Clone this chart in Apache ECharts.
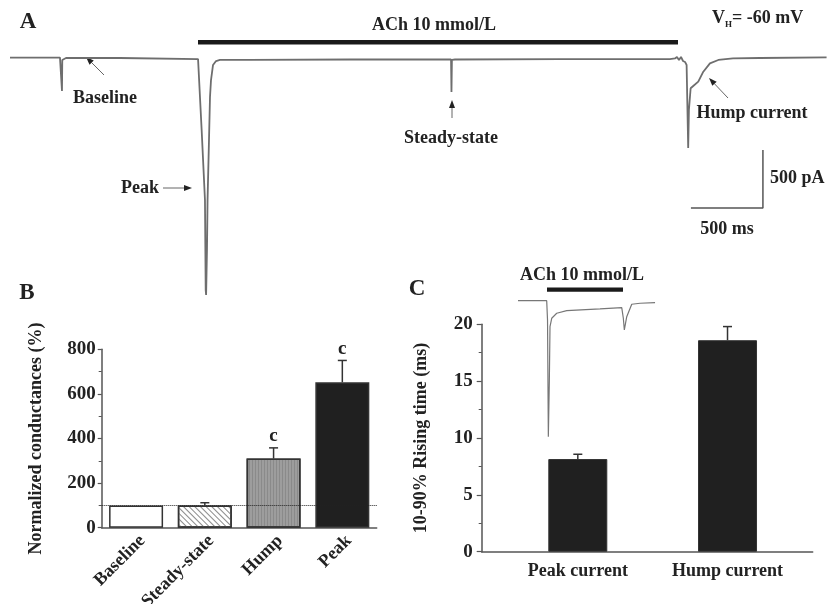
<!DOCTYPE html>
<html>
<head>
<meta charset="utf-8">
<script src="https://cdn.jsdelivr.net/npm/echarts@6/dist/echarts.min.js"></script>
<style>
  html, body { margin: 0; padding: 0; background: #fff; }
  #main { width: 827px; height: 604px; }
</style>
</head>
<body>
<div id="main"></div>
<script>
// panel A: whole-cell current trace (ms, pA)
const traceTime = [0, 347, 358, 361, 363, 365, 389, 764, 1306, 1312, 1331, 1354, 1359, 1362, 1368, 1372, 1382, 1389, 1396, 1410, 1431, 1458, 1667, 2361, 3063, 3066, 3069, 3090, 3819, 4583, 4618, 4632, 4646, 4660, 4674, 4688, 4699, 4710, 4715, 4727, 4745, 4780, 4815, 4861, 4919, 5021, 5208, 5671];
const traceCurrent = [4, 4, 0, -284, -17, 0, 0, 0, -9, -11, -621, -1224, -2000, -2043, -1655, -1224, -707, -336, -190, -60, -26, -17, -17, -13, -13, -293, -17, -13, -9, -9, -4, 9, -17, 9, -26, -34, -60, -776, -448, -261, -241, -204, -118, -46, -17, -3, 0, 6];
// scale bar 500 ms x 500 pA
const scaleTime = [4729, 5229, 5229];
const scaleCurrent = [-1293, -1293, -793];

// panel C inset trace
const insetTime = [0, 1260, 1296, 1332, 1376, 1405, 1480, 1700, 2139, 3601, 4554, 4624, 4668, 4773, 4993, 5358, 6016];
const insetCurrent = [0, 0, -290, -2040, -1190, -390, -264, -189, -150, -124, -105, -264, -440, -240, -54, -39, -30];

// panel B
const bCats = ['Baseline', 'Steady-state', 'Hump', 'Peak'];
const bMeans = [100, 100, 310, 652];
const bErrs = [0, 12, 48, 98];
const bMarks = ['', '', 'c', 'c'];

// panel C
const cCats = ['Peak current', 'Hump current'];
const cPos = [1, 2];
const cMeans = [8.15, 18.6];
const cErrs = [0.42, 1.2];

const serif = '"Liberation Serif", "DejaVu Serif", serif';
const ink = '#222';
const axisGray = '#555';

function pairs(a, b) { return a.map((v, i) => [v, b[i]]); }

function makeErrRender(marks) {
  return function (params, api) {
    const x = api.value(0), m = api.value(1), e = api.value(2);
    const p0 = api.coord([x, m]);
    const p1 = api.coord([x, m + e]);
    const kids = [];
    if (e > 0) {
      kids.push({ type: 'line', shape: { x1: p0[0], y1: p0[1], x2: p1[0], y2: p1[1] }, style: { stroke: '#333', lineWidth: 1.5 } });
      kids.push({ type: 'line', shape: { x1: p1[0] - 4.5, y1: p1[1], x2: p1[0] + 4.5, y2: p1[1] }, style: { stroke: '#333', lineWidth: 1.5 } });
    }
    const mk = marks && marks[params.dataIndex];
    if (mk) {
      kids.push({ type: 'text', x: p1[0], y: p1[1] - 2, style: { text: mk, align: 'center', verticalAlign: 'bottom', font: 'bold 19px ' + serif, fill: ink } });
    }
    return { type: 'group', children: kids };
  };
}

function arrow(x1, y1, x2, y2) {
  const ang = Math.atan2(y2 - y1, x2 - x1);
  const L = 8, W = 3;
  const bx = x2 - L * Math.cos(ang), by = y2 - L * Math.sin(ang);
  const nx = -Math.sin(ang) * W, ny = Math.cos(ang) * W;
  return [
    { type: 'line', shape: { x1: x1, y1: y1, x2: bx, y2: by }, style: { stroke: '#666', lineWidth: 1 } },
    { type: 'polygon', shape: { points: [[x2, y2], [bx + nx, by + ny], [bx - nx, by - ny]] }, style: { fill: ink } }
  ];
}

function txt(x, y, s, size, align) {
  return { type: 'text', x: x, y: y, style: { text: s, font: 'bold ' + size + 'px ' + serif, fill: ink, align: align || 'center', verticalAlign: 'middle' } };
}

const chart = echarts.init(document.getElementById('main'), null, { renderer: 'canvas' });

const hiddenAxis = { show: false };

const option = {
  animation: false,
  backgroundColor: '#fff',
  grid: [
    { left: 10, top: 46.4, width: 817, height: 255.2, outerBoundsMode: 'none' },
    { left: 101.7, top: 349.3, width: 275, height: 178.4, outerBoundsMode: 'none' },
    { left: 481.7, top: 324.3, width: 331, height: 227.4, outerBoundsMode: 'none' },
    { left: 518, top: 294, width: 137, height: 146.7, outerBoundsMode: 'none' }
  ],
  xAxis: [
    Object.assign({ type: 'value', gridIndex: 0, min: 0, max: 5674 }, hiddenAxis),
    {
      type: 'category', gridIndex: 1, data: bCats,
      axisLine: { lineStyle: { color: axisGray, width: 1.5 } },
      axisTick: { show: false },
      axisLabel: { rotate: 45, margin: 4, verticalAlign: 'top', color: ink, fontFamily: serif, fontWeight: 'bold', fontSize: 18 }
    },
    {
      type: 'value', gridIndex: 2, min: 0.358, max: 2.569,
      splitLine: { show: false },
      axisLine: { show: true, lineStyle: { color: axisGray, width: 1.5 } },
      axisTick: { show: false },
      axisLabel: {
        customValues: cPos, margin: 11, color: ink, fontFamily: serif, fontWeight: 'bold', fontSize: 18,
        formatter: v => cCats[Math.round(v) - 1] || ''
      }
    },
    Object.assign({ type: 'value', gridIndex: 3, min: 0, max: 6014 }, hiddenAxis)
  ],
  yAxis: [
    Object.assign({ type: 'value', gridIndex: 0, min: -2100, max: 100 }, hiddenAxis),
    {
      type: 'value', gridIndex: 1, min: 0, max: 800, interval: 200,
      name: 'Normalized conductances (%)', nameLocation: 'middle', nameGap: 56, nameRotate: 90,
      nameTextStyle: { color: ink, fontFamily: serif, fontWeight: 'bold', fontSize: 18 },
      splitLine: { show: false },
      axisLine: { show: true, lineStyle: { color: axisGray, width: 1.5 } },
      axisTick: { show: true, length: 4, lineStyle: { color: axisGray, width: 1.2 } },
      minorTick: { show: true, splitNumber: 2, length: 3, lineStyle: { color: axisGray, width: 1 } },
      axisLabel: { margin: 6, color: ink, fontFamily: serif, fontWeight: 'bold', fontSize: 19 }
    },
    {
      type: 'value', gridIndex: 2, min: 0, max: 20, interval: 5,
      name: '10-90% Rising time (ms)', nameLocation: 'middle', nameGap: 51, nameRotate: 90,
      nameTextStyle: { color: ink, fontFamily: serif, fontWeight: 'bold', fontSize: 18 },
      splitLine: { show: false },
      axisLine: { show: true, lineStyle: { color: axisGray, width: 1.5 } },
      axisTick: { show: true, length: 5, lineStyle: { color: axisGray, width: 1.2 } },
      minorTick: { show: true, splitNumber: 2, length: 3, lineStyle: { color: axisGray, width: 1 } },
      axisLabel: { margin: 9, color: ink, fontFamily: serif, fontWeight: 'bold', fontSize: 19 }
    },
    Object.assign({ type: 'value', gridIndex: 3, min: -2100, max: 100 }, hiddenAxis)
  ],
  series: [
    {
      type: 'line', xAxisIndex: 0, yAxisIndex: 0, data: pairs(traceTime, traceCurrent),
      showSymbol: false, symbol: 'none', lineStyle: { color: '#6e6e6e', width: 1.8 }
    },
    {
      type: 'line', xAxisIndex: 0, yAxisIndex: 0, data: pairs(scaleTime, scaleCurrent),
      showSymbol: false, symbol: 'none', lineStyle: { color: axisGray, width: 1.5 }
    },
    {
      type: 'line', xAxisIndex: 3, yAxisIndex: 3, data: pairs(insetTime, insetCurrent),
      showSymbol: false, symbol: 'none', lineStyle: { color: '#777', width: 1.2 }
    },
    {
      type: 'bar', xAxisIndex: 1, yAxisIndex: 1, barWidth: 54,
      data: bMeans.map((v, i) => {
        const styles = [
          { color: '#fff' },
          { color: '#fff', decal: { symbol: 'rect', color: '#8a8a8a', dashArrayX: [1, 0], dashArrayY: [1, 2.5], rotation: Math.PI / 4 } },
          { color: '#9d9d9d', decal: { symbol: 'rect', color: 'rgba(80,80,80,0.25)', dashArrayX: [1, 2], dashArrayY: [1, 0] } },
          { color: '#202020' }
        ];
        return { value: v, itemStyle: Object.assign({ borderColor: '#333', borderWidth: 1.5 }, styles[i]) };
      }),
      markLine: {
        silent: true, symbol: 'none', label: { show: false },
        lineStyle: { type: 'dotted', color: '#222', width: 1 },
        data: [{ yAxis: 100 }]
      }
    },
    {
      type: 'custom', xAxisIndex: 1, yAxisIndex: 1, z: 5,
      renderItem: makeErrRender(bMarks),
      data: bMeans.map((v, i) => [i, v, bErrs[i]])
    },
    {
      type: 'bar', xAxisIndex: 2, yAxisIndex: 2, barWidth: 59,
      itemStyle: { color: '#202020', borderColor: '#333', borderWidth: 1 },
      data: pairs(cPos, cMeans)
    },
    {
      type: 'custom', xAxisIndex: 2, yAxisIndex: 2, z: 5,
      renderItem: makeErrRender(null),
      data: cPos.map((p, i) => [p, cMeans[i], cErrs[i]])
    }
  ],
  graphic: [].concat(
    [
      txt(28, 22, 'A', 23),
      txt(27, 293, 'B', 23),
      txt(417, 289, 'C', 23),
      txt(434, 25, 'ACh 10 mmol/L', 18),
      { type: 'rect', shape: { x: 198, y: 40, width: 480, height: 4.5 }, style: { fill: '#1a1a1a' } },
      txt(712, 18, 'V', 18, 'left'),
      txt(725, 25, 'H', 9, 'left'),
      txt(732, 18, '= -60 mV', 18, 'left'),
      txt(770, 178, '500 pA', 18, 'left'),
      txt(727, 229, '500 ms', 18),
      txt(105, 98, 'Baseline', 18),
      txt(140, 188, 'Peak', 18),
      txt(451, 138, 'Steady-state', 18),
      txt(752, 113, 'Hump current', 18),
      txt(582, 275, 'ACh 10 mmol/L', 18),
      { type: 'rect', shape: { x: 547, y: 287.5, width: 76, height: 4.2 }, style: { fill: '#1a1a1a' } }
    ],
    arrow(104, 75, 86, 57),
    arrow(163, 188, 192, 188),
    arrow(452, 118, 452, 100),
    arrow(728, 98, 709, 78)
  )
};

chart.setOption(option);
</script>
</body>
</html>
